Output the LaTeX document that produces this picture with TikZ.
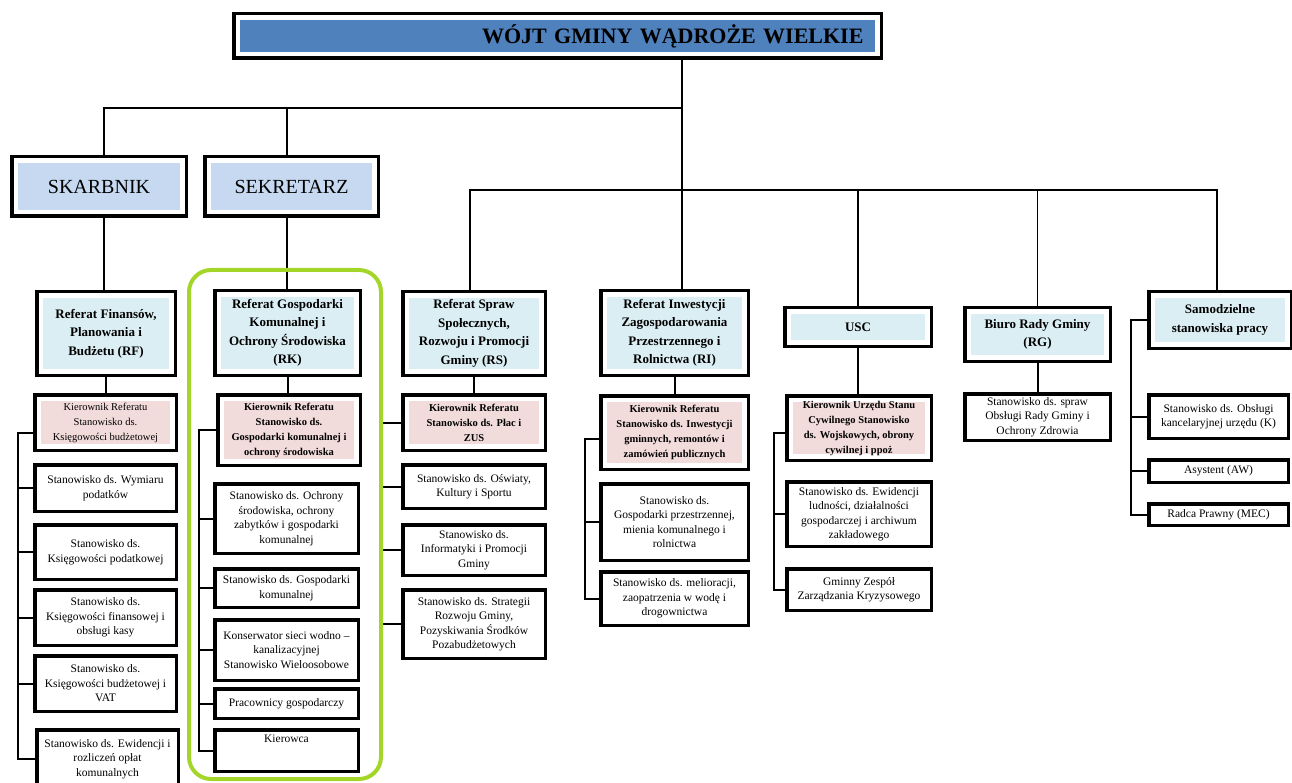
\documentclass[tikz,border=0pt]{standalone}
\usepackage{fontspec}
\setmainfont{Liberation Serif}
\definecolor{wojtblue}{RGB}{79,129,189}
\definecolor{deputyblue}{RGB}{198,217,241}
\definecolor{refblue}{RGB}{219,238,244}
\definecolor{chiefpink}{RGB}{242,220,219}
\definecolor{rkgreen}{RGB}{164,214,42}
\tikzset{
  unit/.style={draw=black, line width=3.5pt, fill=white, align=center, inner sep=1pt,
    font=\fontsize{11.5}{14.5}\selectfont},
  inset/.style={path picture={\fill[#1] ([shift={(6pt,6pt)}]path picture bounding box.south west)
    rectangle ([shift={(-6pt,-6pt)}]path picture bounding box.north east);}},
  sz/.style 2 args={minimum width=#1pt, minimum height=#2pt},
  head/.style={unit, inset=refblue, font=\bfseries\fontsize{13}{18.5}\selectfont},
  chief/.style={unit, inset=chiefpink, font=\bfseries\fontsize{10.5}{15}\selectfont},
  deputy/.style={unit, inset=deputyblue, font=\fontsize{20}{24}\selectfont},
  bus/.style={line width=1.2pt},
  conn/.style={line width=2pt},
}
\begin{document}
\begin{tikzpicture}[x=1pt,y=-1pt]
  \useasboundingbox (0,0) rectangle (1292,783);
  % wojt and deputies
  \node[unit, inset=wojtblue, sz={647.5}{44.5}, text width=612pt, align=right,
    font=\bfseries\fontsize{22}{24}\selectfont] (title) at (557.5,36) {WÓJT GMINY WĄDROŻE WIELKIE};
  \node[deputy, sz={174.5}{59.5}] (skarb) at (99,186.5) {SKARBNIK};
  \node[deputy, sz={173.5}{59.5}] (sekr) at (291.5,186.5) {SEKRETARZ};

  % RF column
  \node[head, sz={138.5}{83.5}] (RF) at (106,333.5) {Referat Finansów,\\Planowania i\\Budżetu (RF)};
  \node[chief, sz={141.5}{55.5}, font=\fontsize{10.5}{15}\selectfont] (RFk) at (105.5,422.5)
    {Kierownik Referatu\\Stanowisko ds.\\Księgowości budżetowej};
  \node[unit, sz={141.5}{46.5}] (RF1) at (105.5,488) {Stanowisko ds. Wymiaru\\podatków};
  \node[unit, sz={141.5}{54.5}] (RF2) at (105.5,552) {Stanowisko ds.\\Księgowości podatkowej};
  \node[unit, sz={141.5}{55.5}] (RF3) at (105.5,617.5) {Stanowisko ds.\\Księgowości finansowej i\\obsługi kasy};
  \node[unit, sz={141.5}{55.5}] (RF4) at (105.5,683.5) {Stanowisko ds.\\Księgowości budżetowej i\\VAT};
  \node[unit, sz={141.5}{58.5}] (RF5) at (107.5,759) {Stanowisko ds. Ewidencji i\\rozliczeń opłat\\komunalnych};

  % RK column
  \node[head, sz={145.5}{84.5}] (RK) at (287.5,333) {Referat Gospodarki\\Komunalnej i\\Ochrony Środowiska\\(RK)};
  \node[chief, sz={142.5}{70.5}] (RKk) at (289,430)
    {Kierownik Referatu\\Stanowisko ds.\\Gospodarki komunalnej i\\ochrony środowiska};
  \node[unit, sz={143.5}{69.5}] (RK1) at (286.5,518.5)
    {Stanowisko ds. Ochrony\\środowiska, ochrony\\zabytków i gospodarki\\komunalnej};
  \node[unit, sz={143.5}{38.5}] (RK2) at (286.5,588) {Stanowisko ds. Gospodarki\\komunalnej};
  \node[unit, sz={143.5}{60.5}] (RK3) at (286.5,650)
    {Konserwator sieci wodno –\\kanalizacyjnej\\Stanowisko Wieloosobowe};
  \node[unit, sz={143.5}{29.5}] (RK4) at (286.5,703.5) {Pracownicy gospodarczy};
  \node[unit, sz={143.5}{41.5}, text height=9pt, text depth=26pt] (RK5) at (286.5,750.5) {Kierowca};

  % RS column
  \node[head, sz={142.5}{83.5}] (RS) at (474,333.5) {Referat Spraw\\Społecznych,\\Rozwoju i Promocji\\Gminy (RS)};
  \node[chief, sz={142.5}{55.5}] (RSk) at (474,422.5) {Kierownik Referatu\\Stanowisko ds. Płac i\\ZUS};
  \node[unit, sz={142.5}{43.5}] (RS1) at (474,486.5) {Stanowisko ds. Oświaty,\\Kultury i Sportu};
  \node[unit, sz={142.5}{50.5}] (RS2) at (474,550) {Stanowisko ds.\\Informatyki i Promocji\\Gminy};
  \node[unit, sz={142.5}{68.5}] (RS3) at (474,624)
    {Stanowisko ds. Strategii\\Rozwoju Gminy,\\Pozyskiwania Środków\\Pozabudżetowych};

  % RI column
  \node[head, sz={147.5}{84.5}] (RI) at (674.5,333) {Referat Inwestycji\\Zagospodarowania\\Przestrzennego i\\Rolnictwa (RI)};
  \node[chief, sz={147.5}{73.5}] (RIk) at (674.5,432.5)
    {Kierownik Referatu\\Stanowisko ds. Inwestycji\\gminnych, remontów i\\zamówień publicznych};
  \node[unit, sz={147.5}{76.5}] (RI1) at (674.5,522)
    {Stanowisko ds.\\Gospodarki przestrzennej,\\mienia komunalnego i\\rolnictwa};
  \node[unit, sz={147.5}{53.5}] (RI2) at (674.5,598.5)
    {Stanowisko ds. melioracji,\\zaopatrzenia w wodę i\\drogownictwa};

  % USC column
  \node[head, sz={146.5}{38.5}] (USC) at (858,327) {USC};
  \node[chief, sz={144.5}{64.5}] (USCk) at (859,428)
    {Kierownik Urzędu Stanu\\Cywilnego Stanowisko\\ds. Wojskowych, obrony\\cywilnej i ppoż};
  \node[unit, sz={144.5}{64.5}] (USC1) at (859,514)
    {Stanowisko ds. Ewidencji\\ludności, działalności\\gospodarczej i archiwum\\zakładowego};
  \node[unit, sz={144.5}{41.5}] (USC2) at (859,589.5) {Gminny Zespół\\Zarządzania Kryzysowego};

  % RG column
  \node[head, sz={145.5}{53.5}] (RG) at (1037.5,334.5) {Biuro Rady Gminy\\(RG)};
  \node[unit, sz={145.5}{46.5}] (RG1) at (1037.5,417)
    {Stanowisko ds. spraw\\Obsługi Rady Gminy i\\Ochrony Zdrowia};

  % independent posts
  \node[head, sz={142.5}{56.5}] (Sam) at (1220,320) {Samodzielne\\stanowiska pracy};
  \node[unit, sz={139.5}{43.5}] (Sam1) at (1218.5,416.5) {Stanowisko ds. Obsługi\\kancelaryjnej urzędu (K)};
  \node[unit, sz={139.5}{22.5}] (Sam2) at (1218.5,471) {Asystent (AW)};
  \node[unit, sz={139.5}{21.5}] (Sam3) at (1218.5,514.5) {Radca Prawny (MEC)};

  % buses from the wojt
  \coordinate (jA) at (682,108);
  \coordinate (jB) at (682,190);
  \coordinate (cSk) at (104,108);
  \coordinate (cSe) at (287,108);
  \coordinate (bRS) at (470,190);
  \coordinate (bSam) at (1217,190);
  \draw[bus] (title.south -| jA) -- (jB) -- (jB |- RI.north);
  \draw[bus] (jA) -- (cSk) -- (cSk |- skarb.north);
  \draw[bus] (cSe) -- (cSe |- sekr.north);
  \draw[bus] (bRS |- RS.north) -- (bRS) -- (bSam) -- (bSam |- Sam.north);
  \foreach \n in {USC,RG}
    \draw[bus] (jB -| \n.north) -- (\n.north);

  % deputies to referats, referats to chiefs
  \draw[conn] (cSk |- skarb.south) -- (cSk |- RF.north);
  \draw[conn] (cSe |- sekr.south) -- (cSe |- RK.north);
  \foreach \a/\b in {RF/RFk,RK/RKk,RS/RSk,RI/RIk,USC/USCk,RG/RG1}
    \draw[conn] (\a.south) -- (\a.south |- \b.north);

  % side brackets
  \coordinate (rfbar) at (18,0);
  \coordinate (rkbar) at (199,0);
  \coordinate (rsbar) at (382,0);
  \coordinate (ribar) at (585,0);
  \coordinate (uscbar) at (774,0);
  \coordinate (sambar) at (1131,0);
  \draw[conn] ([yshift=-10pt]RFk.west) -| (rfbar |- RF5.west) -- (RF5.west);
  \draw[conn] (RKk.west) -| (rkbar |- RK5.west) -- (RK5.west);
  \draw[conn] (RSk.west) -| (rsbar |- RS3.west) -- (RS3.west);
  \draw[conn] ([yshift=-6pt]RIk.west) -| (ribar |- RI2.west) -- (RI2.west);
  \draw[conn] ([yshift=-5pt]USCk.west) -| (uscbar |- USC2.west) -- (USC2.west);
  \draw[conn] (Sam.west) -| (sambar |- Sam3.west) -- (Sam3.west);
  \foreach \g/\b in {rf/RF1,rf/RF2,rf/RF3,rf/RF4,rk/RK1,rk/RK2,rk/RK3,rk/RK4,
                     rs/RS1,rs/RS2,ri/RI1,usc/USC1,sam/Sam1,sam/Sam2}
    \draw[conn] (\g bar |- \b.west) -- (\b.west);

  % frame round the RK column
  \draw[rkgreen, line width=4pt, rounded corners=22pt] (189,270) rectangle (381,779);
\end{tikzpicture}
\end{document}
